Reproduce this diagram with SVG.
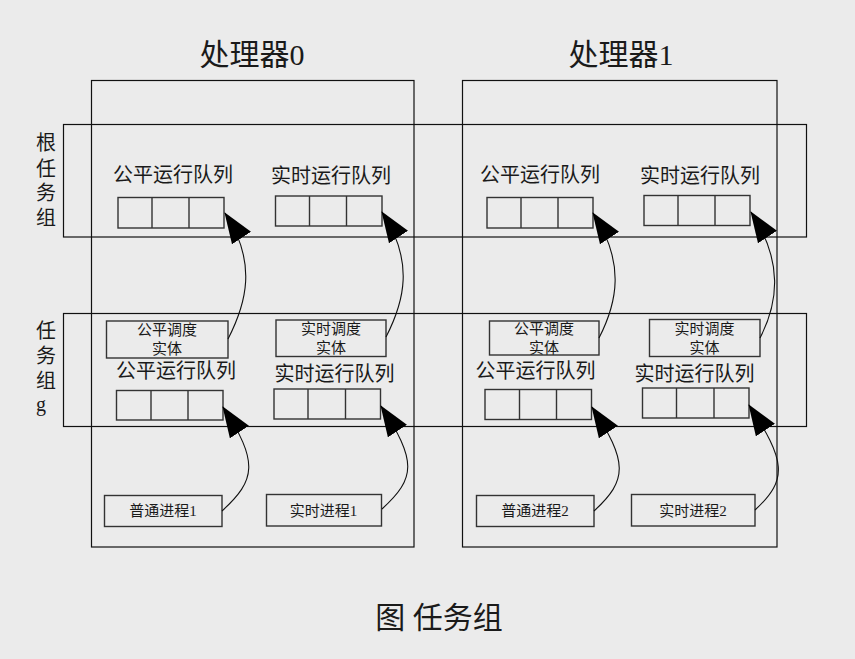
<svg xmlns="http://www.w3.org/2000/svg" width="855" height="659" viewBox="0 0 855 659">
<style>
.t{font-family:"Liberation Serif","Noto Sans CJK SC",serif;fill:#1a1a1a;text-anchor:middle}
.big{font-size:30px}
.q{font-size:20px}
.s{font-size:15px}
.frame{fill:none;stroke:#111;stroke-width:1.2}
.box{fill:none;stroke:#333;stroke-width:1.4}
.con{fill:none;stroke:#111;stroke-width:1.1;marker-end:url(#ah)}
</style>
<defs>
<marker id="ah" markerUnits="userSpaceOnUse" markerWidth="31" markerHeight="23" viewBox="0 0 30 22" refX="29" refY="11" orient="auto">
<path d="M0,0 L30,11 L0,22 z" fill="#000"/>
</marker>
</defs>
<rect width="855" height="659" fill="#ebebeb"/>

<g id="processor0">
<rect class="frame" x="91.5" y="80.5" width="322.5" height="466.5"/>
<text class="t big" x="252" y="65">处理器0</text>
</g>
<g id="processor1">
<rect class="frame" x="462.5" y="80.5" width="314.5" height="466.5"/>
<text class="t big" x="621" y="65">处理器1</text>
</g>
<g id="root-group">
<rect class="frame" x="63.5" y="124.5" width="743" height="112.5"/>
<text class="t q" x="46" y="150">根</text>
<text class="t q" x="46" y="176">任</text>
<text class="t q" x="46" y="200">务</text>
<text class="t q" x="46" y="225">组</text>
</g>
<g id="task-group-g">
<rect class="frame" x="63.5" y="313.5" width="743" height="113"/>
<text class="t q" x="46" y="338">任</text>
<text class="t q" x="46" y="363">务</text>
<text class="t q" x="46" y="388">组</text>
<text class="t q" x="41" y="411">g</text>
</g>

<g id="p0-root-fair">
<text class="t q" x="173" y="182">公平运行队列</text>
<rect class="box" x="118" y="197.5" width="106" height="30.5"/>
<path class="box" d="M152,197.5V228M189,197.5V228"/>
</g>
<g id="p0-root-rt">
<text class="t q" x="331" y="183">实时运行队列</text>
<rect class="box" x="275.5" y="196" width="106.5" height="30"/>
<path class="box" d="M309.5,196V226M346.5,196V226"/>
</g>
<g id="p1-root-fair">
<text class="t q" x="540" y="182">公平运行队列</text>
<rect class="box" x="487" y="197.5" width="106" height="30.5"/>
<path class="box" d="M521,197.5V228M558,197.5V228"/>
</g>
<g id="p1-root-rt">
<text class="t q" x="700" y="183">实时运行队列</text>
<rect class="box" x="644" y="195.5" width="106" height="30"/>
<path class="box" d="M678,195.5V225.5M715,195.5V225.5"/>
</g>

<g id="p0-fair-se">
<rect class="box" x="106.5" y="321" width="121.5" height="37"/>
<text class="t s" x="167" y="335">公平调度</text>
<text class="t s" x="167" y="354">实体</text>
</g>
<g id="p0-rt-se">
<rect class="box" x="276" y="320" width="110" height="36.5"/>
<text class="t s" x="331" y="334">实时调度</text>
<text class="t s" x="331" y="353">实体</text>
</g>
<g id="p1-fair-se">
<rect class="box" x="489.5" y="321" width="109.5" height="34"/>
<text class="t s" x="544" y="334">公平调度</text>
<text class="t s" x="544" y="353">实体</text>
</g>
<g id="p1-rt-se">
<rect class="box" x="649.5" y="319.5" width="110.5" height="37"/>
<text class="t s" x="704.5" y="334">实时调度</text>
<text class="t s" x="704.5" y="353">实体</text>
</g>

<g id="p0-g-fair">
<text class="t q" x="176" y="378">公平运行队列</text>
<rect class="box" x="116.5" y="390.5" width="106.5" height="29.5"/>
<path class="box" d="M151,390.5V420M188,390.5V420"/>
</g>
<g id="p0-g-rt">
<text class="t q" x="334.5" y="381">实时运行队列</text>
<rect class="box" x="274" y="389" width="106.5" height="30"/>
<path class="box" d="M308,389V419M345.5,389V419"/>
</g>
<g id="p1-g-fair">
<text class="t q" x="535.5" y="378">公平运行队列</text>
<rect class="box" x="485" y="389.5" width="106.5" height="30"/>
<path class="box" d="M519.5,389.5V419.5M556.5,389.5V419.5"/>
</g>
<g id="p1-g-rt">
<text class="t q" x="694.5" y="381">实时运行队列</text>
<rect class="box" x="642.5" y="388" width="106.5" height="30"/>
<path class="box" d="M676.5,388V418M714,388V418"/>
</g>

<g id="p0-normal-proc">
<rect class="box" x="104.5" y="495.5" width="117.5" height="31"/>
<text class="t s" x="163" y="516">普通进程1</text>
</g>
<g id="p0-rt-proc">
<rect class="box" x="266.5" y="494.5" width="115" height="31.5"/>
<text class="t s" x="323.5" y="516">实时进程1</text>
</g>
<g id="p1-normal-proc">
<rect class="box" x="476.5" y="495.5" width="117.5" height="31"/>
<text class="t s" x="535" y="516">普通进程2</text>
</g>
<g id="p1-rt-proc">
<rect class="box" x="631.5" y="494.5" width="123.5" height="31.5"/>
<text class="t s" x="693" y="516">实时进程2</text>
</g>

<g id="connectors">
<path class="con" d="M228,339 C246,304 258,263 225,213"/>
<path class="con" d="M386,337 C404,302 415,262 382,212"/>
<path class="con" d="M599,338 C617,303 626,263 593,213"/>
<path class="con" d="M760,338 C778,303 784,262 751,212"/>
<path class="con" d="M222,511 C256,480 259,462 223,407"/>
<path class="con" d="M382,509 C416,478 417,461 381,406"/>
<path class="con" d="M594,511 C628,480 628,462 592,407"/>
<path class="con" d="M755,510 C789,479 785,460 749,405"/>
</g>

<text class="t big" x="439" y="628" id="caption">图 任务组</text>
</svg>
